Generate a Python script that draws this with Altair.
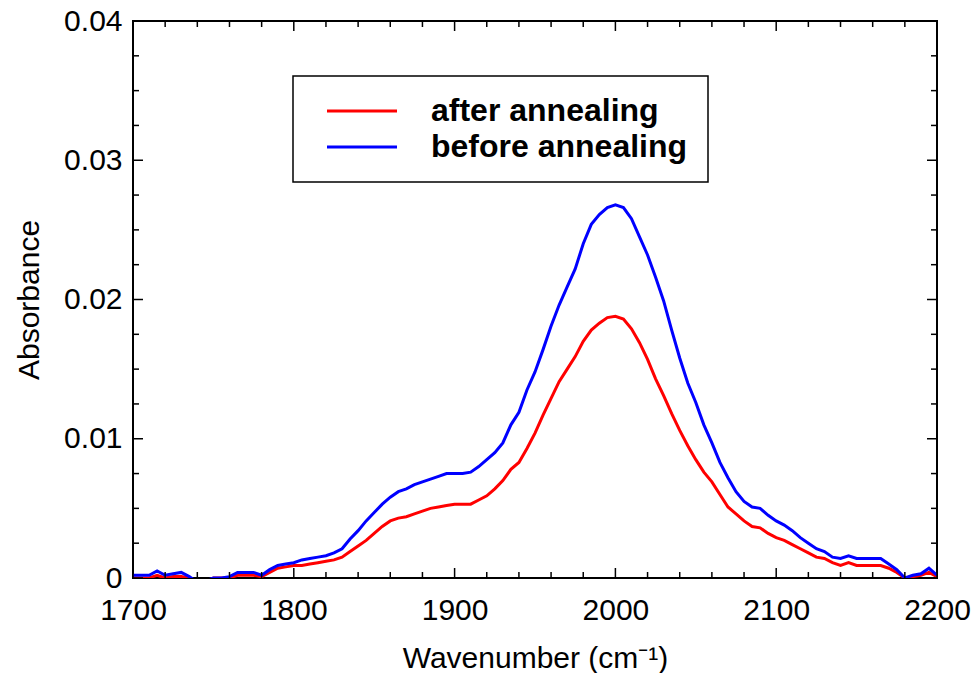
import altair as alt
import pandas as pd

# ---------------- data ----------------
wavenumber = list(range(1700, 2201, 5))

after_annealing = [
    0.0000, 0.0000, 0.0000, 0.0002, 0.0000, 0.0001, 0.0001, 0.0000, -0.0004, -0.0003,
    0.0000, 0.0000, 0.0000, 0.0002, 0.0002, 0.0002, 0.0001, 0.0004, 0.0007, 0.0008,
    0.0009, 0.0009, 0.0010, 0.0011, 0.0012, 0.0013, 0.0015, 0.0019, 0.0023, 0.0027,
    0.0032, 0.0037, 0.0041, 0.0043, 0.0044, 0.0046, 0.0048, 0.0050, 0.0051, 0.0052,
    0.0053, 0.0053, 0.0053, 0.0056, 0.0059, 0.0064, 0.0070, 0.0078, 0.0083, 0.0093,
    0.0104, 0.0117, 0.0129, 0.0141, 0.0150, 0.0159, 0.0170, 0.0178, 0.0183, 0.0187,
    0.0188, 0.0186, 0.0179, 0.0169, 0.0157, 0.0143, 0.0131, 0.0118, 0.0106, 0.0095,
    0.0085, 0.0076, 0.0069, 0.0060, 0.0051, 0.0046, 0.0041, 0.0037, 0.0036, 0.0032,
    0.0029, 0.0027, 0.0024, 0.0021, 0.0018, 0.0015, 0.0014, 0.0011, 0.0009, 0.0011,
    0.0009, 0.0009, 0.0009, 0.0009, 0.0007, 0.0004, 0.0000, 0.0001, 0.0002, 0.0004,
    0.0001,
]

before_annealing = [
    0.0002, 0.0002, 0.0002, 0.0005, 0.0002, 0.0003, 0.0004, 0.0001, -0.0003, -0.0002,
    0.0000, 0.0000, 0.0001, 0.0004, 0.0004, 0.0004, 0.0002, 0.0006, 0.0009, 0.0010,
    0.0011, 0.0013, 0.0014, 0.0015, 0.0016, 0.0018, 0.0021, 0.0028, 0.0034, 0.0041,
    0.0047, 0.0053, 0.0058, 0.0062, 0.0064, 0.0067, 0.0069, 0.0071, 0.0073, 0.0075,
    0.0075, 0.0075, 0.0076, 0.0080, 0.0085, 0.0090, 0.0097, 0.0110, 0.0119, 0.0135,
    0.0148, 0.0164, 0.0181, 0.0196, 0.0209, 0.0222, 0.0240, 0.0254, 0.0261, 0.0266,
    0.0268, 0.0266, 0.0258, 0.0245, 0.0232, 0.0216, 0.0199, 0.0178, 0.0158, 0.0140,
    0.0126, 0.0110, 0.0097, 0.0083, 0.0072, 0.0062, 0.0055, 0.0051, 0.0050, 0.0045,
    0.0041, 0.0038, 0.0034, 0.0029, 0.0025, 0.0021, 0.0019, 0.0015, 0.0014, 0.0016,
    0.0014, 0.0014, 0.0014, 0.0014, 0.0010, 0.0006, 0.0000, 0.0002, 0.0003, 0.0007,
    0.0002,
]

series_names = ["after annealing", "before annealing"]
series_colors = ["#ff0000", "#0000ff"]

x_major_ticks = [1700, 1800, 1900, 2000, 2100, 2200]
x_minor_ticks = [v for v in range(1700, 2201, 20) if v % 100 != 0]
y_major_ticks = [0.0, 0.01, 0.02, 0.03, 0.04]
y_minor_ticks = [0.0025, 0.005, 0.0075, 0.0125, 0.015, 0.0175,
                 0.0225, 0.025, 0.0275, 0.0325, 0.035, 0.0375]

# ---------------- tables ----------------
df = pd.concat([
    pd.DataFrame({"wavenumber": wavenumber, "absorbance": after_annealing,
                  "series": series_names[0], "order": 0}),
    pd.DataFrame({"wavenumber": wavenumber, "absorbance": before_annealing,
                  "series": series_names[1], "order": 1}),
])
legend_df = pd.DataFrame({"series": series_names, "row": [0, 1]})

W, H = 804, 557
FONT = "Liberation Sans"

xscale = alt.Scale(domain=[1700, 2200], nice=False, zero=False)
yscale = alt.Scale(domain=[0, 0.04], nice=False)
cscale = alt.Scale(domain=series_names, range=series_colors)

x_axis = alt.Axis(values=x_major_ticks, title="Wavenumber (cm⁻¹)",
                  ticks=False, domain=False, grid=False, labelFlush=False,
                  labelOverlap=False,
                  labelPadding=17, titlePadding=18, format="d")
y_axis = alt.Axis(values=y_major_ticks, title="Absorbance",
                  ticks=False, domain=False, grid=False, labelFlush=False,
                  labelOverlap=False,
                  labelPadding=11, titlePadding=19,
                  labelExpr="datum.value == 0 ? '0' : format(datum.value, '.2f')")

lines = alt.Chart(df).mark_line(strokeWidth=3, clip=True).encode(
    x=alt.X("wavenumber:Q", scale=xscale, axis=x_axis),
    y=alt.Y("absorbance:Q", scale=yscale, axis=y_axis),
    color=alt.Color("series:N", scale=cscale, legend=None),
    order=alt.Order("order:Q"),
)


def xticks(vals, y0, y1):
    return alt.Chart(pd.DataFrame({"wavenumber": vals})).mark_rule(
        color="black", strokeWidth=1.5).encode(
        x=alt.X("wavenumber:Q", scale=xscale, axis=x_axis),
        y=alt.value(y0), y2=alt.value(y1))


def yticks(vals, x0, x1):
    return alt.Chart(pd.DataFrame({"absorbance": vals})).mark_rule(
        color="black", strokeWidth=1.5).encode(
        y=alt.Y("absorbance:Q", scale=yscale, axis=y_axis),
        x=alt.value(x0), x2=alt.value(x1))


ticks = [
    xticks(x_major_ticks, H, H - 10), xticks(x_major_ticks, 0, 10),
    xticks(x_minor_ticks, H, H - 6), xticks(x_minor_ticks, 0, 6),
    yticks(y_major_ticks, 0, 10), yticks(y_major_ticks, W, W - 10),
    yticks(y_minor_ticks, 0, 6), yticks(y_minor_ticks, W, W - 6),
]

# ---------------- legend box ----------------
legend_box = alt.Chart(pd.DataFrame({"k": [0]})).mark_rect(
    fill="white", stroke="black", strokeWidth=1.5).encode(
    x=alt.value(160), x2=alt.value(575), y=alt.value(55), y2=alt.value(161))

legend_base = alt.Chart(legend_df).transform_calculate(ly="90 + 36 * datum.row")

legend_lines = legend_base.mark_rule(strokeWidth=3).encode(
    x=alt.value(194), x2=alt.value(264),
    y=alt.Y("ly:Q", scale=None, axis=None),
    color=alt.Color("series:N", scale=cscale, legend=None))

legend_text = legend_base.mark_text(
    align="left", baseline="middle", font=FONT, fontSize=32, fontWeight="bold",
    color="black").encode(
    x=alt.value(298),
    y=alt.Y("ly:Q", scale=None, axis=None),
    text="series:N")

chart = alt.layer(lines, *ticks, legend_box, legend_lines, legend_text).resolve_scale(
    color="shared"
).properties(
    width=W, height=H,
    autosize=alt.AutoSizeParams(type="none"),
    padding={"left": 125, "top": 13, "right": 34, "bottom": 95},
).configure_view(
    stroke="black", strokeWidth=2
).configure_axis(
    labelFont=FONT, titleFont=FONT, labelFontSize=30, titleFontSize=30,
    titleFontWeight="normal", labelColor="black", titleColor="black",
)

chart.save("out.html", embed_options={"renderer": "svg", "actions": False})
